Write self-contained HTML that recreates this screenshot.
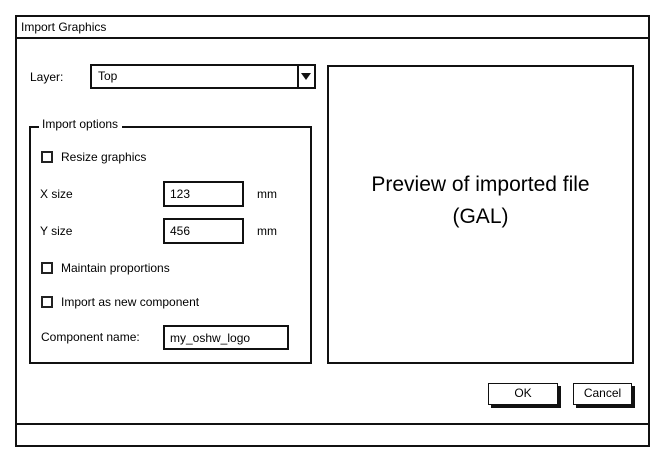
<!DOCTYPE html>
<html><head><style>
body{margin:0;width:665px;height:463px;background:#fff;position:relative;overflow:hidden;font-family:"Liberation Sans",sans-serif;color:#000}
.a{position:absolute;box-sizing:border-box}
.b{border:2px solid #111}
.t{position:absolute;font-size:12px;line-height:14px;white-space:nowrap}
.cb{position:absolute;width:12px;height:12px;border:2px solid #222;box-sizing:border-box}
.in{position:absolute;box-sizing:border-box;border:2px solid #111;border-right-width:2.5px;border-bottom-width:2.5px;font-size:12px;padding:4px 0 0 5px;line-height:14px}
.btn{position:absolute;box-sizing:border-box;border:1.5px solid #111;box-shadow:3px 3px 0 #111;font-size:12px;text-align:center;line-height:19px;background:#fff}
</style></head><body>
<div class="a b" style="left:15px;top:15px;width:635px;height:432px"></div>
<div class="a" style="left:15px;top:37px;width:635px;height:2px;background:#111"></div>
<div class="t" style="left:21px;top:20px">Import Graphics</div>
<div class="a" style="left:15px;top:423px;width:635px;height:2px;background:#111"></div>

<div class="t" style="left:30px;top:70px">Layer:</div>
<div class="a b" style="left:90px;top:64px;width:226px;height:25px"></div>
<div class="t" style="left:98px;top:69px">Top</div>
<div class="a" style="left:297px;top:65px;width:1.5px;height:23px;background:#111"></div>
<div class="a" style="left:301px;top:73px;width:0;height:0;border-left:5px solid transparent;border-right:5px solid transparent;border-top:7px solid #111"></div>

<div class="a b" style="left:327px;top:65px;width:307px;height:299px"></div>
<div class="t" style="left:327px;top:169px;width:307px;text-align:center;font-size:21px;line-height:32px">Preview of imported file<br>(GAL)</div>

<div class="a b" style="left:29px;top:126px;width:283px;height:238px"></div>
<div class="t" style="left:39px;top:117px;background:#fff;padding:0 4px 0 3px">Import options</div>

<div class="cb" style="left:41px;top:151px"></div>
<div class="t" style="left:61px;top:150px">Resize graphics</div>
<div class="t" style="left:40px;top:187px">X size</div>
<div class="in" style="left:163px;top:181px;width:81px;height:26px">123</div>
<div class="t" style="left:257px;top:187px">mm</div>
<div class="t" style="left:40px;top:224px">Y size</div>
<div class="in" style="left:163px;top:218px;width:81px;height:26px">456</div>
<div class="t" style="left:257px;top:224px">mm</div>
<div class="cb" style="left:41px;top:262px"></div>
<div class="t" style="left:61px;top:261px">Maintain proportions</div>
<div class="cb" style="left:41px;top:296px"></div>
<div class="t" style="left:61px;top:295px">Import as new component</div>
<div class="t" style="left:41px;top:330px">Component name:</div>
<div class="in" style="left:163px;top:325px;width:126px;height:25px">my_oshw_logo</div>

<div class="btn" style="left:488px;top:383px;width:70px;height:22px">OK</div>
<div class="btn" style="left:573px;top:383px;width:59px;height:22px">Cancel</div>
</body></html>
